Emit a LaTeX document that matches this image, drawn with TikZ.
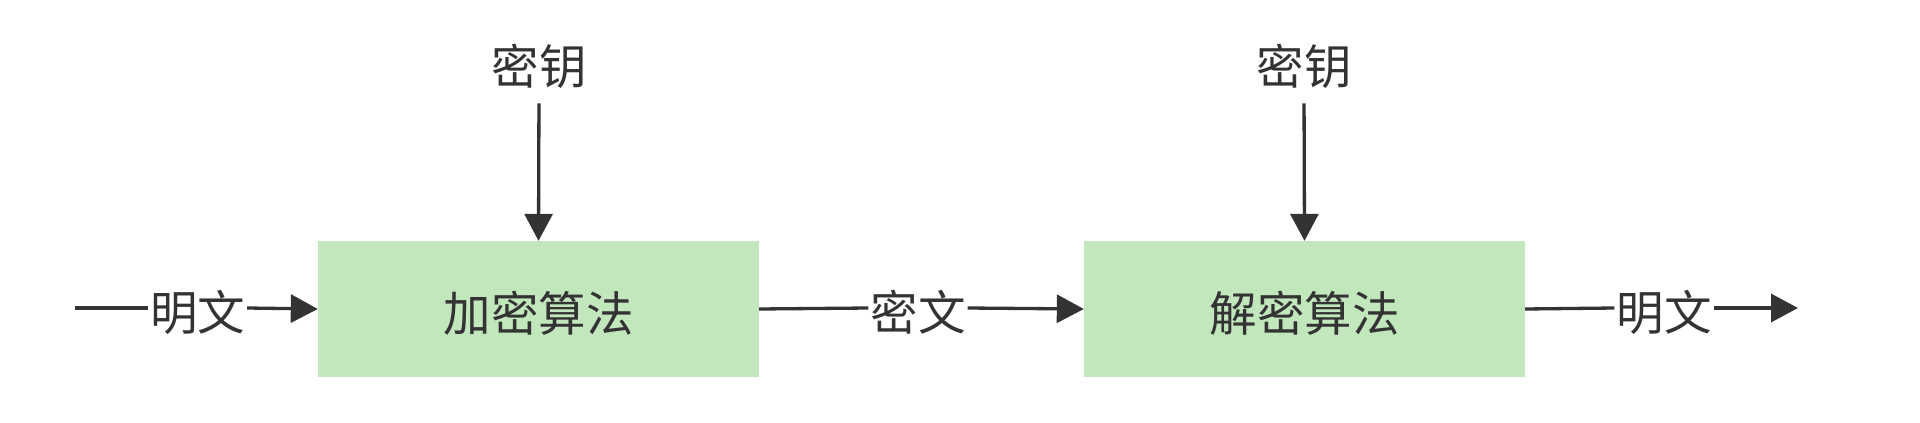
\documentclass[tikz,border=0pt]{standalone}
\usepackage{fontspec}
\newfontfamily\cjk{Noto Sans CJK SC}
\usetikzlibrary{arrows.meta}
\definecolor{boxgreen}{HTML}{C2E7BD}
\definecolor{ink}{HTML}{333333}
\newcommand{\low}[1]{\raisebox{-4pt}[\height][\depth]{#1}}
\begin{document}
\begin{tikzpicture}[x=1pt,y=-1pt,
  algbox/.style={fill=boxgreen,draw=none,minimum width=441pt,minimum height=136pt,inner sep=0pt,text=ink,font=\cjk\fontsize{47.5}{50}\selectfont},
  lbl/.style={text=ink,font=\cjk\fontsize{47.5}{50}\selectfont,inner sep=2pt},
  conn/.style={draw=ink,line width=3.3pt},
  arr/.style={conn,-{Triangle[length=27pt,width=28pt]}}
]
\fill[white] (0,0) rectangle (1920,423);
\useasboundingbox (0,0) rectangle (1920,423);
\node[algbox] (enc) at (538.5,309) {\low{加密算法}};
\node[algbox] (dec) at (1304.5,309) {\low{解密算法}};
\node[lbl] (key1) at (539,66) {密钥};
\node[lbl] (key2) at (1304,66) {密钥};
\node[lbl] (p1) at (197.5,308) {\low{明文}};
\node[lbl] (c1) at (918,308) {\low{密文}};
\node[lbl] (p2) at (1664,308) {\low{明文}};
\coordinate (start) at (75,308);
\coordinate (finish) at (1798,308);
\draw[arr,shorten <=13pt] (key1.south) -- (enc.north);
\draw[arr,shorten <=13pt] (key2.south) -- (dec.north);
\draw[conn] (start) -- (p1.west);
\draw[arr] (p1.east) -- (enc.west);
\draw[conn] (enc.east) -- (c1.west);
\draw[arr] (c1.east) -- (dec.west);
\draw[conn] (dec.east) -- (p2.west);
\draw[arr] (p2.east) -- (finish);
\end{tikzpicture}
\end{document}
